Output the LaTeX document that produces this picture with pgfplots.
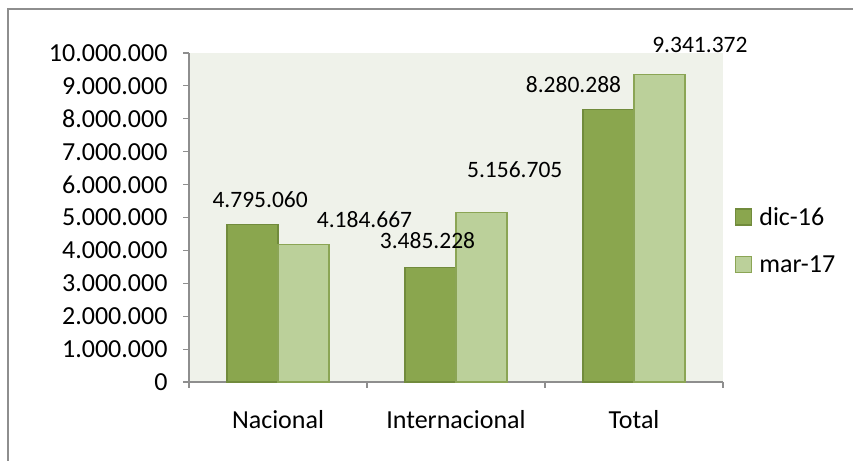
\documentclass[border=0pt]{standalone}
\usepackage{fontspec}
\setmainfont{Carlito}
\usepackage{pgfplots}
\pgfplotsset{compat=1.18}
\definecolor{darkg}{HTML}{8AA64E}
\definecolor{darkgE}{HTML}{718B3C}
\definecolor{lightg}{HTML}{BBD09A}
\definecolor{lightgE}{HTML}{8BA555}
\definecolor{bgc}{HTML}{EFF2EA}
\definecolor{axc}{HTML}{8E8E8E}
\begin{document}
\begin{tikzpicture}[x=1bp,y=1bp]
\path[use as bounding box] (0,0) rectangle (853,461);
\draw[axc, line width=1.3bp] (8,0) -- (8,452) -- (853,452);
\begin{axis}[
  at={(189bp,79bp)}, anchor=south west,
  scale only axis, width=534bp, height=329bp,
  ymin=0, ymax=10000000, xmin=-0.5, xmax=2.5,
  clip=false,
  axis lines=left, axis line style={-, axc, line width=1.3bp},
  axis background/.style={fill=bgc},
  ytick={0,1000000,2000000,3000000,4000000,5000000,6000000,7000000,8000000,9000000,10000000},
  yticklabels={0,1.000.000,2.000.000,3.000.000,4.000.000,5.000.000,6.000.000,7.000.000,8.000.000,9.000.000,10.000.000},
  scaled y ticks=false,
  xtick={-0.5,0.5,1.5,2.5}, xticklabels={},
  extra x ticks={0,1,2},
  extra x tick labels={Nacional,Internacional,Total},
  extra x tick style={major tick length=0pt, xticklabel style={yshift=-25bp}},
  tick align=outside, major tick length=6bp,
  tick style={axc, line width=1.1bp},
  ticklabel style={font=\fontsize{26bp}{30bp}\selectfont, text=black},
  yticklabel style={xshift=-12bp},
  ybar=0pt, bar width=0.287,
  legend style={draw=none, fill=none, at={(1.0,0.43)}, anchor=west, xshift=9bp,
    font=\fontsize{26bp}{30bp}\selectfont, row sep=25bp,
    legend cell align=left},
  legend image code/.code={\draw[#1, line width=1.2bp] (0bp,-8bp) rectangle (16bp,8bp); \path (21bp,0bp);},
]
\addplot[fill=darkg, draw=darkgE, line width=1.2bp] coordinates {(0,4795060) (1,3485228) (2,8280288)};
\addplot[fill=lightg, draw=lightgE, line width=1.2bp] coordinates {(0,4184667) (1,5156705) (2,9341372)};
\legend{dic-16,mar-17}
\begin{scope}[every node/.style={font=\fontsize{23.5bp}{26bp}\selectfont, text=black, inner sep=0pt}]
\node at (axis cs:-0.10,5550000) {4.795.060};
\node at (axis cs:0.486,4940000) {4.184.667};
\node at (axis cs:0.84,4290000) {3.485.228};
\node at (axis cs:1.33,6440000) {5.156.705};
\node at (axis cs:1.66,9030000) {8.280.288};
\node at (axis cs:2.37,10230000) {9.341.372};
\end{scope}
\end{axis}
\end{tikzpicture}
\end{document}
